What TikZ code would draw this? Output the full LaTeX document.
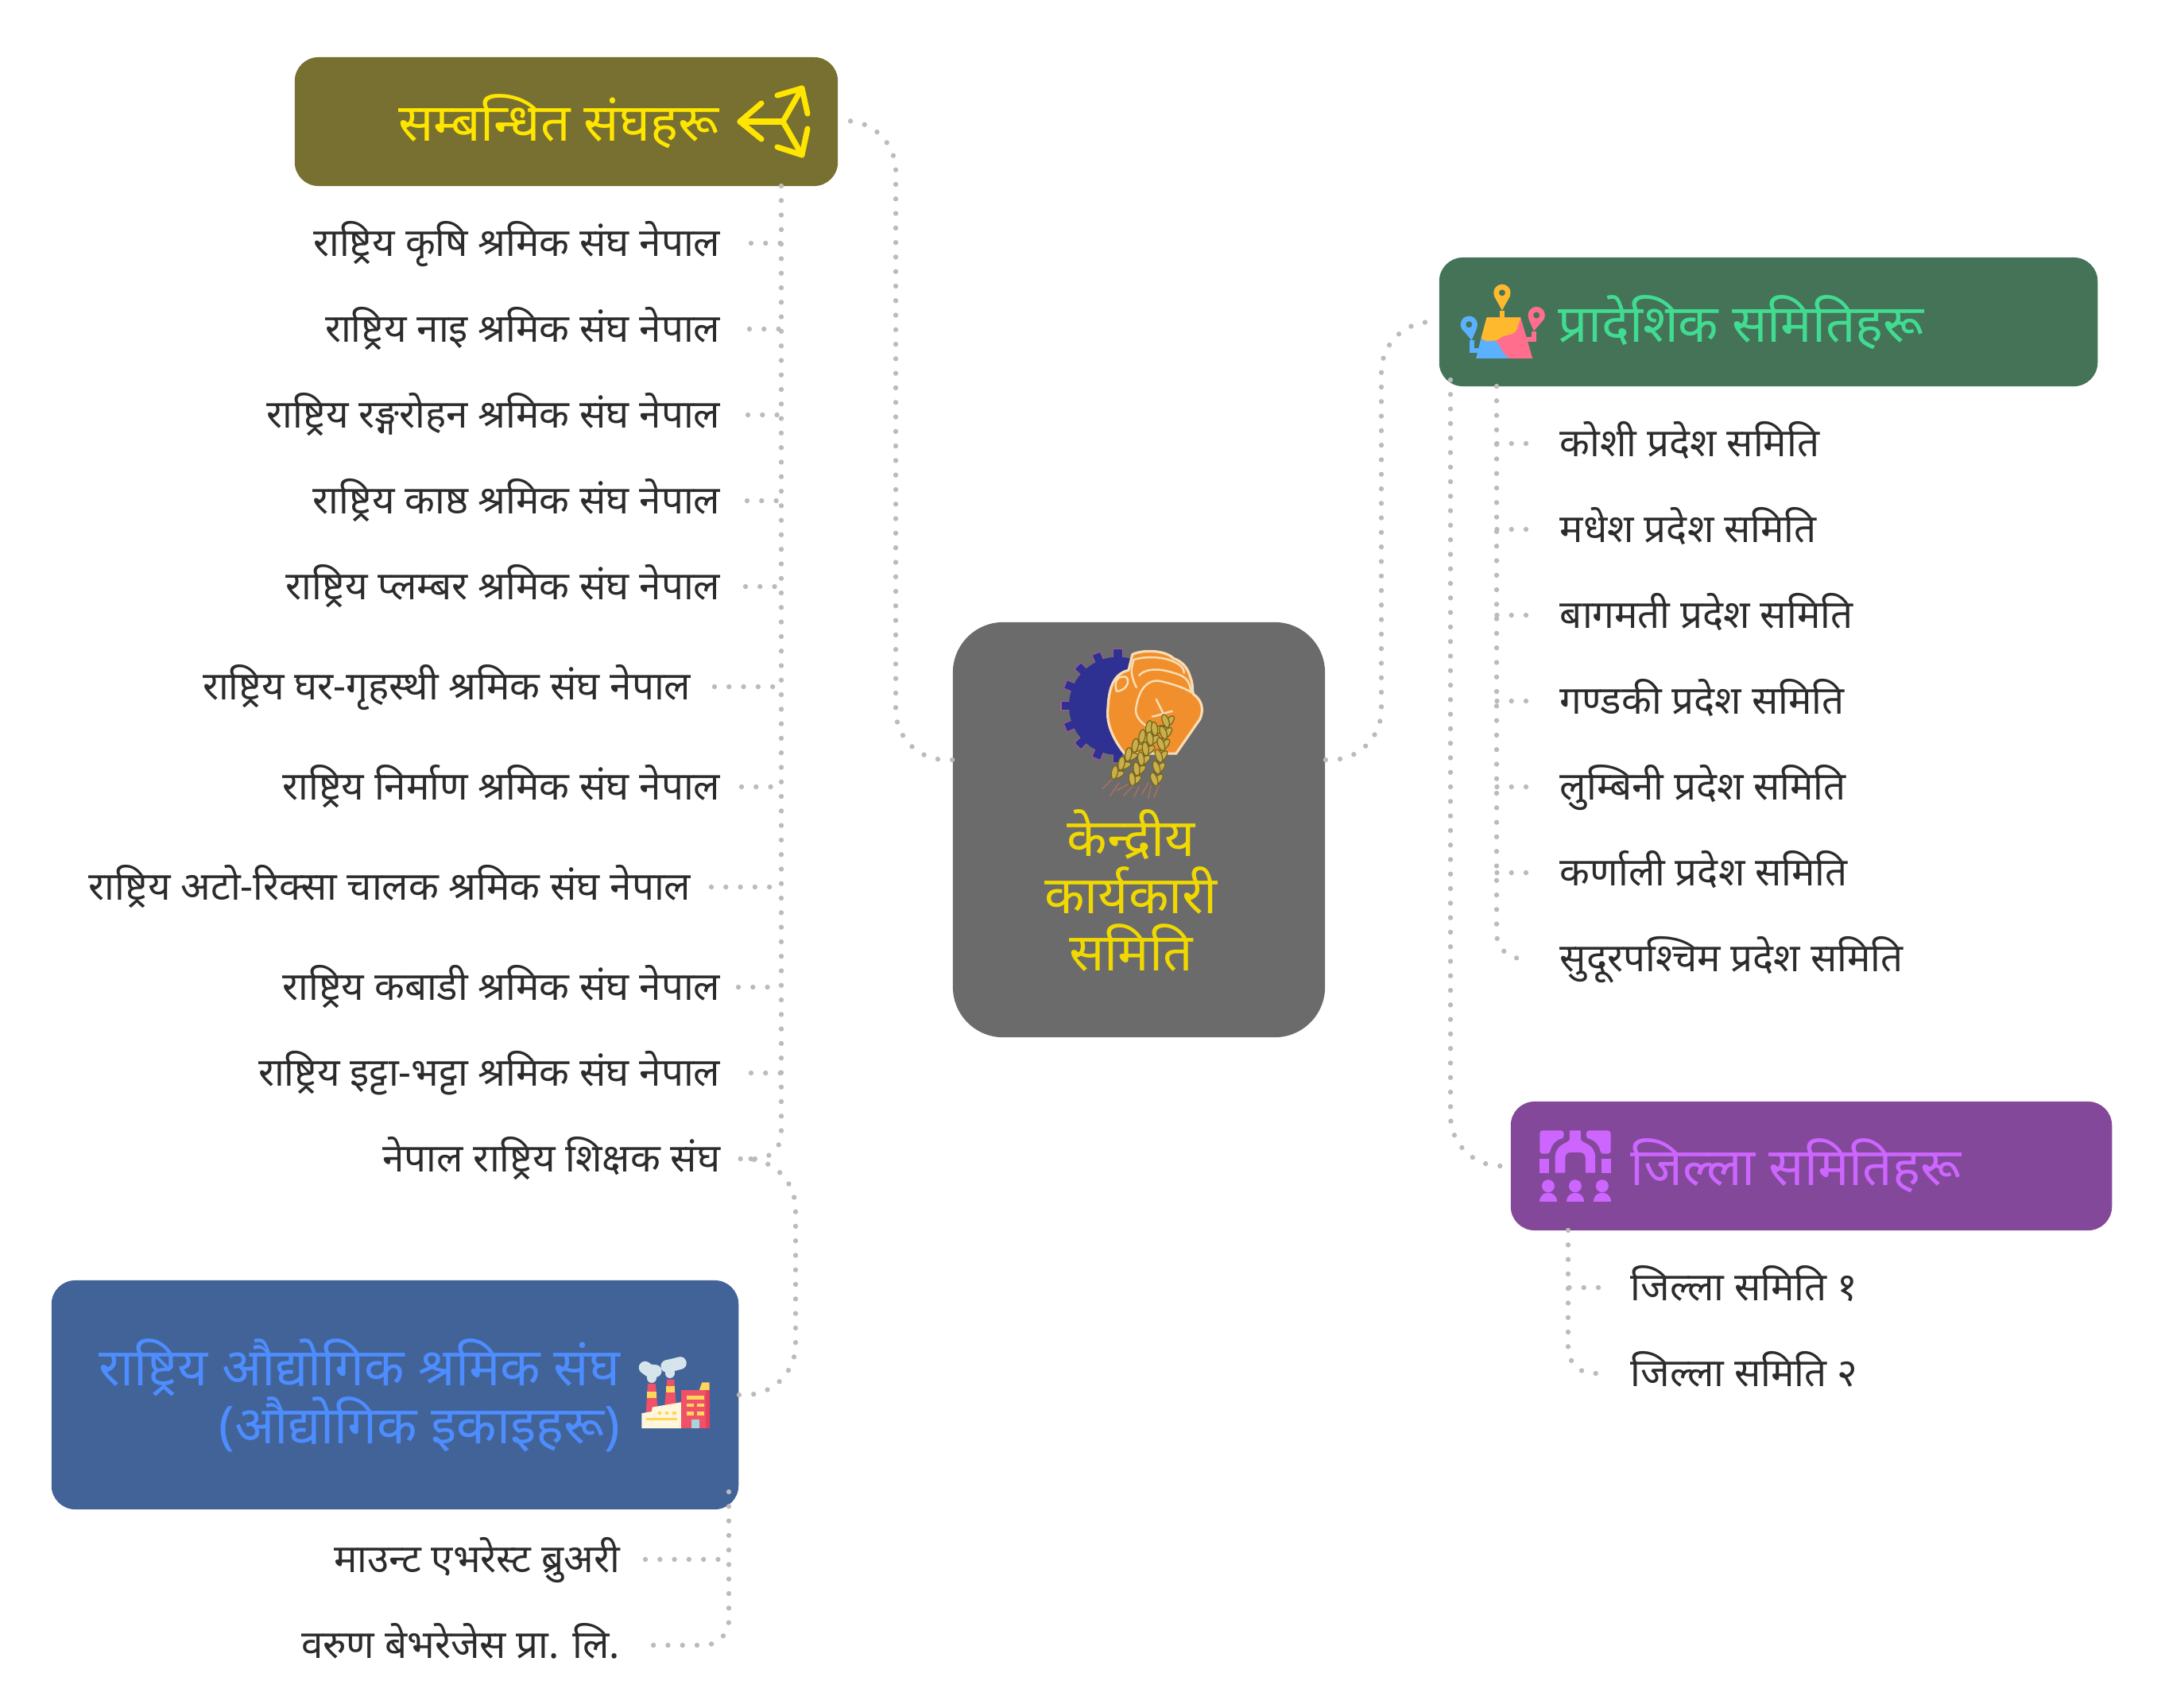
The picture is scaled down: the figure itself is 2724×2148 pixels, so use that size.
\documentclass[tikz,border=0pt]{standalone}
\usepackage{fontspec}
\usepackage{xcolor}
\setmainfont[Script=Devanagari]{Noto Sans}
\usetikzlibrary{positioning,calc}

\definecolor{linkgray}{HTML}{BBBBBB}
\definecolor{itemtext}{HTML}{2B2B2B}
\definecolor{olivebox}{HTML}{787030}
\definecolor{olivetext}{HTML}{FFE600}
\definecolor{greenbox}{HTML}{447358}
\definecolor{greentext}{HTML}{41DC91}
\definecolor{purplebox}{HTML}{834899}
\definecolor{purpletext}{HTML}{CC66FF}
\definecolor{bluebox}{HTML}{426397}
\definecolor{bluetext}{HTML}{4D8DFF}
\definecolor{centralbox}{HTML}{6B6B6B}
\definecolor{centraltext}{HTML}{F0D800}
\definecolor{gearblue}{HTML}{2E3192}
\definecolor{gearedge}{HTML}{A35A93}
\definecolor{fistorange}{HTML}{F28F2D}
\definecolor{fistline}{HTML}{F8DDB4}
\definecolor{wheat}{HTML}{C9AE4A}
\definecolor{wheatdark}{HTML}{76661E}
\definecolor{whisker}{HTML}{B0705A}
\definecolor{mapyellow}{HTML}{FFB92E}
\definecolor{mapblue}{HTML}{5CB1FF}
\definecolor{mappink}{HTML}{FF6F8D}
\definecolor{facred}{HTML}{EE5168}
\definecolor{facdark}{HTML}{E5405A}
\definecolor{facyellow}{HTML}{FFD65C}
\definecolor{faccream}{HTML}{FFF6DC}
\definecolor{facsmoke}{HTML}{D6E4EC}
\definecolor{facdoor}{HTML}{A8D4DC}

\tikzset{
  boxnode/.style={rectangle, rounded corners=8.5pt, inner sep=0pt},
  headtext/.style={font=\fontsize{18.7}{20.5}\selectfont, inner sep=0pt},
  itemnode/.style={font=\fontsize{14}{16}\selectfont, text=itemtext, inner ysep=0pt, inner xsep=10pt,
    text height=13pt, text depth=3.4pt},
  link/.style={draw=linkgray, line width=1.8pt, line cap=round, dash pattern=on 0pt off 5.2pt},
  bigbend/.style={rounded corners=18pt},
  smallbend/.style={rounded corners=9pt},
  grain/.style={fill=wheat, draw=wheatdark, line width=0.35pt}
}

\begin{document}
\begin{tikzpicture}[x=0.01cm, y=-0.01cm]
    \useasboundingbox (0,0) rectangle (2724,2148);

    % Boxes
    \node[boxnode, fill=centralbox, rounded corners=18pt, minimum width=4.68cm, minimum height=5.22cm] (central) at (1433,1044) {};
    \node[boxnode, fill=olivebox, minimum width=6.83cm, minimum height=1.62cm] (relbox) at (712.5,153) {};
    \node[boxnode, fill=greenbox, minimum width=8.28cm, minimum height=1.62cm] (provbox) at (2225,405) {};
    \node[boxnode, fill=purplebox, minimum width=7.56cm, minimum height=1.62cm] (distbox) at (2279,1467) {};
    \node[boxnode, fill=bluebox, minimum width=8.64cm, minimum height=2.88cm] (indbox) at (497,1755) {};

    % Titles
    \node[headtext, text=olivetext, anchor=base east] (reltext) at (905,177) {सम्बन्धित संघहरू};
    \node[headtext, text=greentext, anchor=base west] (provtext) at (1960,430) {प्रादेशिक समितिहरू};
    \node[headtext, text=purpletext, anchor=base west] (disttext) at (2051,1491) {जिल्ला समितिहरू};
    \node[headtext, text=bluetext, anchor=base east] (indtexta) at (781,1743) {राष्ट्रिय औद्योगिक श्रमिक संघ};
    \node[headtext, text=bluetext, anchor=base east] (indtextb) at (781,1816) {(औद्योगिक इकाइहरू)};
    \node[headtext, text=centraltext, anchor=base] (centrala) at (1423,1077) {केन्द्रीय};
    \node[headtext, text=centraltext, anchor=base] (centralb) at (1423,1149) {कार्यकारी};
    \node[headtext, text=centraltext, anchor=base] (centralc) at (1423,1221) {समिति};

    % Left list
    \foreach \i/\xx/\yy/\txt in {
      1/942/306/राष्ट्रिय कृषि श्रमिक संघ नेपाल,
      2/942/414/राष्ट्रिय नाइ श्रमिक संघ नेपाल,
      3/942/522/राष्ट्रिय रङ्गरोहन श्रमिक संघ नेपाल,
      4/942/630/राष्ट्रिय काष्ठ श्रमिक संघ नेपाल,
      5/942/738/राष्ट्रिय प्लम्बर श्रमिक संघ नेपाल,
      6/905/864/राष्ट्रिय घर-गृहस्थी श्रमिक संघ नेपाल,
      7/942/990/राष्ट्रिय निर्माण श्रमिक संघ नेपाल,
      8/905/1116/राष्ट्रिय अटो-रिक्सा चालक श्रमिक संघ नेपाल,
      9/942/1242/राष्ट्रिय कबाडी श्रमिक संघ नेपाल,
      10/942/1350/राष्ट्रिय इट्टा-भट्टा श्रमिक संघ नेपाल,
      11/942/1458/नेपाल राष्ट्रिय शिक्षक संघ}
      \node[itemnode, anchor=east] (rel\i) at (\xx,\yy) {\txt};

    % Right list
    \foreach \i/\yy/\txt in {
      1/558/कोशी प्रदेश समिति,
      2/666/मधेश प्रदेश समिति,
      3/774/बागमती प्रदेश समिति,
      4/882/गण्डकी प्रदेश समिति,
      5/990/लुम्बिनी प्रदेश समिति,
      6/1098/कर्णाली प्रदेश समिति,
      7/1206/सुदूरपश्चिम प्रदेश समिति}
      \node[itemnode, anchor=west] (prov\i) at (1927,\yy) {\txt};

    \node[itemnode, anchor=west] (dist1) at (2016,1620) {जिल्ला समिति १};
    \node[itemnode, anchor=west] (dist2) at (2016,1728) {जिल्ला समिति २};
    \node[itemnode, anchor=east] (ind1) at (816,1962) {माउन्ट एभरेस्ट ब्रुअरी};
    \node[itemnode, anchor=east] (ind2) at (816,2070) {वरुण बेभरेजेस प्रा. लि.};

    % Trunks
    \coordinate (reltrunk) at (983,234);
    \coordinate (provtrunk) at (1883,486);
    \coordinate (provside) at (1825,478);
    \coordinate (disttrunk) at (1973,1548);
    \coordinate (indtrunk) at (917,1877);
    \coordinate (relend) at (955,1458);

    % Links from the centre
    \draw[link, bigbend] ($(central.west)+(0,-88)$) -- (1127,956) -- (1127,152) -- (relbox.east |- 0,152);
    \draw[link, bigbend] ($(central.east)+(0,-88)$) -- (1738,956) -- (1738,405) -- (provbox.west);
    \draw[link, bigbend] (provside) -- (1825,1467) -- (distbox.west);
    \draw[link, bigbend] (indbox.east) -- (1001,1755) -- (1001,1458) -- (relend);

    % Links to the lists
    \draw[link, smallbend] (reltrunk) -- (reltrunk |- rel11.east) -- ($(rel11.east)+(-13,0)$);
    \foreach \i/\gap in {1/3,2/1,3/-1,4/-2,5/-4,6/-6,7/-9,8/-10,9/-13,10/3}
      \draw[link] ($(rel\i.east)+(\gap,0)$) -- (reltrunk |- rel\i.east);
    \draw[link, smallbend] (provtrunk) -- (provtrunk |- prov7.west) -- ($(prov7.west)+(-5,0)$);
    \foreach \i in {1,...,6}
      \draw[link] ($(prov\i.west)+(-7,0)$) -- (provtrunk |- prov\i.west);
    \draw[link, smallbend] (disttrunk) -- (disttrunk |- dist2.west) -- ($(dist2.west)+(-5,0)$);
    \draw[link] ($(dist1.west)+(-5,0)$) -- (disttrunk |- dist1.west);
    \draw[link, smallbend] (indtrunk) -- (indtrunk |- ind2.east) -- ($(ind2.east)+(2,0)$);
    \draw[link] ($(ind1.east)+(-4,0)$) -- (indtrunk |- ind1.east);

    % Split arrows
    \begin{scope}[draw=olivetext, line width=2pt, line cap=round, line join=round]
        \draw (985,153) -- (931,153);
        \draw (958,130) -- (931,153) -- (958,175);
        \draw (1009,111) -- (985,153) -- (1009,195);
        \draw (978,120) -- (1009,111) -- (1016,143);
        \draw (978,185) -- (1009,195) -- (1016,162);
    \end{scope}

    % Logo
    \begin{scope}[shift={(1330,805)}, x=0.00333cm, y=-0.00333cm]
        \begin{scope}
            \clip (0,0) rectangle (300,500);
            \foreach \a in {0,22.5,...,337.5}
                \draw[draw=gearedge, fill=gearblue, line width=0.3pt, rotate around={\a:(230,250)}]
                    (390,233) rectangle (445,267);
            \fill[gearblue] (230,250) circle (185);
        \end{scope}
        % Fist
        \draw[fill=fistorange, draw=fistline, line width=0.9pt, line join=round]
            (285,55) .. controls (330,35) and (410,40) .. (440,70) .. controls (480,85) and (495,110) .. (505,145)
            .. controls (515,170) and (510,190) .. (515,205) .. controls (550,230) and (555,265) .. (540,300)
            -- (450,430) -- (255,430) .. controls (215,380) and (185,320) .. (192,260)
            .. controls (195,200) and (205,130) .. (270,115) -- cycle;
        \begin{scope}[draw=fistline, line width=0.7pt, line cap=round]
            \draw (290,75) .. controls (340,60) and (410,65) .. (445,85) .. controls (470,95) and (480,110) .. (480,125);
            \draw (310,135) .. controls (330,110) and (380,105) .. (440,125) .. controls (480,135) and (500,150) .. (505,190);
            \draw (300,250) .. controls (310,190) and (340,150) .. (385,155) .. controls (430,165) and (480,180) .. (510,200);
            \draw (300,250) .. controls (290,280) and (310,310) .. (345,330);
            \draw (225,195) .. controls (215,160) and (225,135) .. (260,140) .. controls (275,150) and (270,190) .. (225,195);
            \draw (290,75) .. controls (285,100) and (270,120) .. (300,180);
            \draw (375,225) -- (400,275) -- (410,300);
            \draw (360,290) .. controls (390,285) and (410,275) .. (435,270);
        \end{scope}
        % Wheat
        \begin{scope}[draw=whisker, line width=0.4pt]
            \foreach \ax/\ay/\bx/\by in {215/520/170/565, 235/540/200/590, 290/550/250/590, 310/555/290/595, 355/550/345/600, 385/550/365/598, 345/540/320/585, 270/545/225/570}
                \draw (\ax,\ay) -- (\bx,\by);
        \end{scope}
        \foreach \ax/\ay/\bx/\by/\ang in {345/345/215/515/50, 370/350/285/540/67, 415/320/372/540/80}
            \foreach \t in {1,0.8,0.6,0.4,0.2,0} {
                \pgfmathsetmacro{\px}{\bx+\t*(\ax-\bx)}
                \pgfmathsetmacro{\py}{\by+\t*(\ay-\by)}
                \foreach \s in {-30,30}
                    \draw[grain, shift={(\px,\py)}, rotate=\ang+\s] (14,0) ellipse (26 and 12);
            }
    \end{scope}

    % Map icon
    \begin{scope}[shift={(1830,350)}, x=0.00333cm, y=-0.00333cm]
        \foreach \cx/\cy/\tx/\ty/\sx/\sy/\ex/\ey/\col in {
            180/55/180/122/180/122/180/150/mapyellow,
            55/175/65/235/65/235/95/272/mapblue,
            310/140/300/200/300/200/270/230/mappink} {
            \fill[\col] (\cx,\cy) circle (32);
            \fill[\col] (\cx-30,\cy+13) -- (\tx,\ty) -- (\cx+30,\cy+13) -- cycle;
            \draw[\col, line width=1.7pt] (\sx,\sy) |- (\ex,\ey);
            \fill[greenbox] (\cx,\cy) circle (12);
        }
        \fill[mappink] (122,148) -- (250,148) -- (295,303) -- (82,303) -- cycle;
        \fill[mapblue] (101,225) .. controls (115,245) and (135,235) .. (150,237) .. controls (180,250) and (170,280) .. (207,303) -- (82,303) -- cycle;
        \fill[mapyellow] (122,148) -- (250,148) -- (238,190) .. controls (225,220) and (195,210) .. (175,225) .. controls (160,240) and (150,235) .. (135,237) .. controls (120,240) and (110,235) .. (101,225) -- cycle;
    \end{scope}

    % District icon
    \begin{scope}[shift={(1930,1415)}, x=0.00333cm, y=-0.00333cm, purpletext]
        \fill[rounded corners=1pt] (22,22) -- (113,22) -- (113,52) .. controls (80,58) and (65,80) .. (60,110) -- (22,110) -- cycle;
        \fill[rounded corners=1pt] (290,22) -- (198,22) -- (198,52) .. controls (230,58) and (248,80) .. (252,110) -- (290,110) -- cycle;
        \fill (135,22) -- (177,22) -- (177,55) .. controls (180,72) and (232,70) .. (232,125) -- (232,182) -- (195,182) -- (195,130)
            .. controls (195,112) and (185,105) .. (175,105) -- (137,105) .. controls (125,105) and (118,112) .. (118,130)
            -- (118,182) -- (80,182) -- (80,125) .. controls (80,70) and (132,72) .. (135,55) -- cycle;
        \fill (22,130) rectangle (58,182);
        \fill (254,130) rectangle (290,182);
        \foreach \cx in {54,156,258} {
            \fill (\cx,232) circle (24);
            \fill (\cx-32,290) .. controls (\cx-32,245) and (\cx+32,245) .. (\cx+32,290) -- cycle;
        }
    \end{scope}

    % Factory icon
    \begin{scope}[shift={(800,1700)}, x=0.00333cm, y=-0.00333cm]
        \draw[facsmoke, line width=3.4pt, line cap=round] (60,78) -- (60,102);
        \draw[facsmoke, line width=3.4pt, line cap=round] (128,62) -- (128,84);
        \draw[facsmoke, line width=4.5pt, line cap=round] (35,62) -- (52,74) -- (74,75);
        \draw[facsmoke, line width=4.5pt, line cap=round] (118,57) -- (140,52) -- (168,45);
        \fill[facred] (45,123) -- (75,123) -- (82,215) -- (38,235) -- cycle;
        \fill[facyellow] (43,153) rectangle (78,177);
        \fill[facred] (118,107) -- (145,107) -- (152,200) -- (108,215) -- cycle;
        \fill[facyellow] (114,133) rectangle (148,157);
        \fill[faccream] (22,292) -- (22,235) -- (60,228) -- (62,212) -- (172,193) -- (172,292) -- cycle;
        \foreach \wx in {83,111,139}
            \fill[facyellow] (\wx,227) rectangle ++(13,13);
        \fill[facyellow] (40,253) rectangle (155,261);
        \fill[facred] (172,147) rectangle (278,292);
        \fill[facdark] (265,147) rectangle (278,292);
        \fill[facyellow] (240,147) -- (250,118) -- (278,118) -- (278,147) -- cycle;
        \fill[facyellow] (192,168) rectangle (258,182);
        \foreach \wx/\wy in {192/197,232/197,192/228,232/228}
            \fill[facyellow] (\wx,\wy) rectangle ++(26,14);
        \fill[facdoor] (210,258) rectangle (240,292);
    \end{scope}
\end{tikzpicture}
\end{document}
